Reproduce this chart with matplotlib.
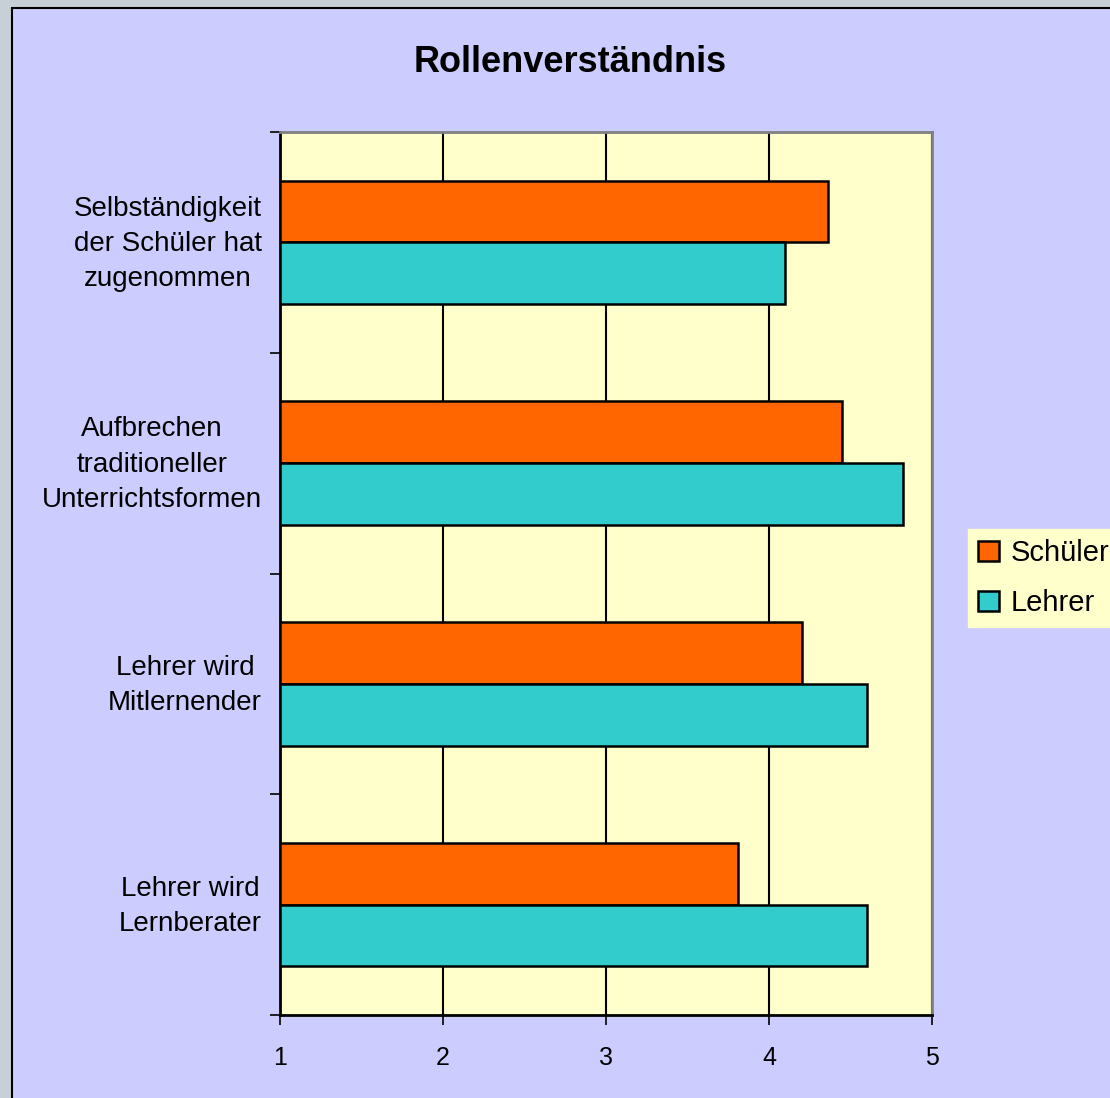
import numpy as np
import matplotlib.pyplot as plt
from matplotlib.patches import Rectangle, Patch
from matplotlib.transforms import ScaledTranslation

plt.rcParams['font.family'] = ['Liberation Sans', 'DejaVu Sans']

# Data
categories = ['Selbständigkeit\nder Schüler hat\nzugenommen',
              'Aufbrechen\ntraditioneller\nUnterrichtsformen',
              'Lehrer wird\nMitlernender',
              'Lehrer wird\nLernberater']
schueler = [4.36, 4.45, 4.20, 3.81]
lehrer = [4.10, 4.82, 4.60, 4.60]
x_ticks = [1, 2, 3, 4, 5]

orange = '#FF6600'
teal = '#33CCCC'

fig = plt.figure(figsize=(11.1, 10.98), dpi=100, facecolor='#C6D0D6')

# purple chart area with black frame
fig.patches.append(Rectangle((12 / 1110, -0.1), 1.2, 1 - 8 / 1098 + 0.1,
                             transform=fig.transFigure, facecolor='#CCCCFF',
                             edgecolor='black', linewidth=1.5, zorder=-5))

ax = fig.add_axes([280 / 1110, 1 - 1015 / 1098, 652 / 1110, 883 / 1098])
ax.set_facecolor('#FFFFCC')

y = np.arange(len(categories))
h = 0.28
ax.barh(y - h / 2, [v - 1 for v in schueler], height=h, left=1, color=orange,
        edgecolor='black', linewidth=1.8, zorder=3, label='Schüler')
ax.barh(y + h / 2, [v - 1 for v in lehrer], height=h, left=1, color=teal,
        edgecolor='black', linewidth=1.8, zorder=3, label='Lehrer')

ax.set_xlim(1, 5)
ax.set_ylim(3.5, -0.5)
ax.set_xticks(x_ticks)
ax.set_xticklabels([str(t) for t in x_ticks], fontsize=18)
ax.xaxis.grid(True, color='black', linewidth=1.5, zorder=1)
ax.set_axisbelow(True)

ax.set_yticks(y)
ax.set_yticklabels(categories, fontsize=20, multialignment='center',
                   linespacing=1.47)
ax.set_yticks(np.arange(-0.5, 4, 1), minor=True)
ax.tick_params(axis='y', which='major', length=0, pad=13)
ax.tick_params(axis='y', which='minor', length=7, width=1.2, direction='out')
ax.tick_params(axis='x', length=7, width=1.2, direction='out', pad=15)

# nudge the category labels up a little
shift = ScaledTranslation(0, 6 / 100, fig.dpi_scale_trans)
for lab in ax.get_yticklabels():
    lab.set_transform(lab.get_transform() + shift)

for s in ['left', 'bottom']:
    ax.spines[s].set_color('black')
    ax.spines[s].set_linewidth(2)
for s in ['top', 'right']:
    ax.spines[s].set_color('#808080')
    ax.spines[s].set_linewidth(2)

fig.text(570 / 1110, 1 - 62 / 1098, 'Rollenverständnis', fontsize=26,
         fontweight='bold', ha='center', va='center')

handles = [Patch(facecolor=orange, edgecolor='black', linewidth=1.8),
           Patch(facecolor=teal, edgecolor='black', linewidth=1.8)]
leg = fig.legend(handles, ['Schüler', 'Lehrer'], loc='center left',
                 bbox_to_anchor=(968 / 1110, 1 - 578 / 1098), fontsize=21,
                 frameon=True, facecolor='#FFFFCC', edgecolor='#FFFFCC',
                 fancybox=False, framealpha=1, handlelength=0.7,
                 handleheight=0.7, handletextpad=0.4, labelspacing=0.75,
                 borderpad=0.35, borderaxespad=0)

fig.savefig('out.png', dpi=100, facecolor=fig.get_facecolor())
